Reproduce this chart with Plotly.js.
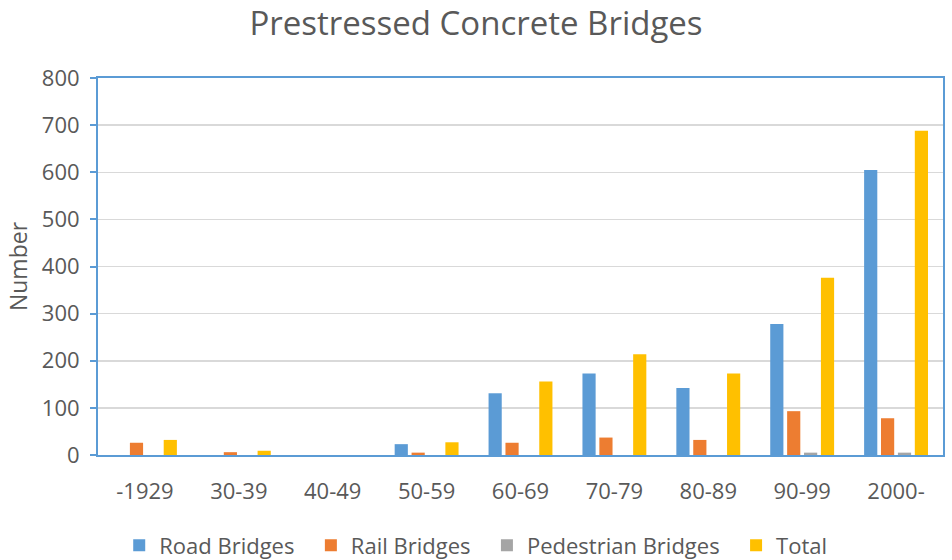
<!DOCTYPE html>
<html>
<head>
<meta charset="utf-8">
<script src="https://cdn.plot.ly/plotly-3.0.1.min.js"></script>
<style>html,body{margin:0;padding:0;background:#fff;}#chart{width:952px;height:560px;}</style>
</head>
<body>
<div id="chart"></div>
<script>
const categories = ["-1929", "30-39", "40-49", "50-59", "60-69", "70-79", "80-89", "90-99", "2000-"];
const roadBridges = [0, 0, 0, 23, 131, 173, 142, 278, 605];
const railBridges = [26, 6, 0, 5, 26, 37, 32, 93, 78];
const pedestrianBridges = [0, 0, 0, 0, 0, 0, 0, 5, 5];
const total = [32, 9, 0, 27, 156, 214, 173, 376, 688];
const seriesNames = ["Road Bridges", "Rail Bridges", "Pedestrian Bridges", "Total"];
const colors = ["#5B9BD5", "#ED7D31", "#A5A5A5", "#FFC000"];

const values = [roadBridges, railBridges, pedestrianBridges, total];
const pad = "\u00a0\u00a0";
const traces = values.map((v, i) => ({
  type: "bar",
  name: seriesNames[i] + (i < values.length - 1 ? pad : ""),
  x: categories,
  y: v,
  marker: {color: colors[i], line: {width: 0}},
  hoverinfo: "x+y+name"
}));

const font = {family: "'Open Sans', 'Noto Sans', sans-serif", color: "#595959"};
const layout = {
  width: 952, height: 560,
  margin: {l: 98, r: 9, t: 78, b: 105, autoexpand: false},
  paper_bgcolor: "#fff", plot_bgcolor: "#fff",
  font: Object.assign({size: 22}, font),
  title: {text: "Prestressed Concrete Bridges", font: Object.assign({size: 33}, font), x: 0.5, xanchor: "center", y: 0.958, yanchor: "middle"},
  barmode: "group",
  bargap: 0.28,
  bargroupgap: 0.22,
  xaxis: {
    type: "category",
    showline: true, linecolor: "#5B9BD5", linewidth: 2, mirror: true,
    ticks: "", showgrid: false, zeroline: false,
    tickfont: Object.assign({size: 22}, font),
    ticklabelstandoff: 16
  },
  yaxis: {
    range: [0, 800], dtick: 100,
    showline: true, linecolor: "#5B9BD5", linewidth: 2, mirror: true,
    ticks: "outside", ticklen: 6, tickcolor: "#5B9BD5", tickwidth: 2,
    gridcolor: "#D9D9D9", gridwidth: 1.5, zeroline: false,
    tickfont: Object.assign({size: 22}, font),
    ticklabelstandoff: 6,
    title: {text: "Number", font: Object.assign({size: 23}, font), standoff: 8}
  },
  legend: {
    orientation: "h", x: 0.447, xanchor: "center", y: -0.24, yanchor: "middle",
    font: Object.assign({size: 22}, font), itemwidth: 30, traceorder: "normal"
  },
  showlegend: true
};
Plotly.newPlot("chart", traces, layout, {displayModeBar: false, staticPlot: true});
</script>
</body>
</html>
